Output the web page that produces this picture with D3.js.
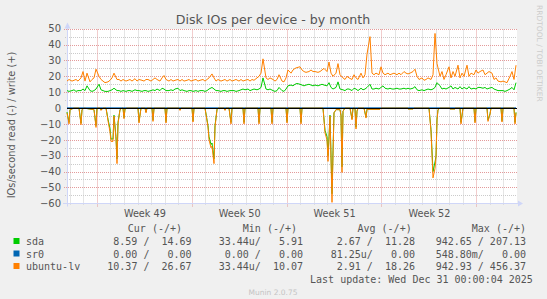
<!DOCTYPE html>
<html><head><meta charset="utf-8">
<script src="https://cdn.jsdelivr.net/npm/d3@7"></script>
<style>
html,body{margin:0;padding:0;background:#f0f0f0;}
svg{display:block;}
text{white-space:pre;}
</style>
</head><body>
<svg id="chart" width="547" height="299"></svg>
<script>
// ---------- DATA ----------
const startTime = Date.UTC(2025, 10, 28, 19, 0);
const endTime = Date.UTC(2026, 0, 1, 0, 0);
const stepHours = 4;

// write (+) values, one every 4 hours from startTime
const lvWrite = [
17,18,17,17.5,18,17,19,23,17,22,16.5,18,19,24.5,20,18,17,16,16.5,17.5,19,22,18,18,17,18,17,17.5,18,17,18.5,17,18,17.5,17,18,18,17,18,19,
18,17,19,20.5,18,17,18,17,17.5,18,17,18,17,17.5,18,17,17.5,18,17,17.5,18,17,18,19,21.5,19,17,18,17,17.5,18,17,18,17,17.5,18,17,18,17,17.5,
18,17,18,17.5,19,20,22,31,19,18,19,18,17,18,21,17,16.5,19,24,22,24,25,25.5,26,24,23,22.5,23,24,23,23,22.5,23,24,25,23,29,22,20,22,
28,21,19,18,20,19,18,21,19,18,22,19,21,34,45,22,21,22,21,26,22,21,22,21,21.5,22,21,22,21,23,22,21.5,22,23,24.5,20,18,19,17.5,18,
19,18,21,47,28,20,23,18,21,26,19,23,20,27,19,22,20,27,20,22,21,24,22,23,24,21,22,23,22,18,19,17,16.5,17,16.5,16,20,23,18,27];
const sdaWrite = [
11,10.5,11,11.5,10.5,11,11,12,11,14,11,10.5,11,12,15,11.5,11,10.5,10.5,11,11.5,12.5,11,11,10.5,11,10.5,11,11,10.5,11.5,11,11,10.5,11,11,10.5,11,11.5,11,
12,11,12.5,12,11,11,11.5,11,12,12.5,11,11.5,11,10.5,11,11,10.5,11,10.5,11,11,10.5,11,12,13,12,11,11,10.5,11,11,10.5,11,11,11,10.5,11,11.5,12,11.5,
12,11,11.5,12,11.5,12,13,19,12,11.5,12,11,10.5,11,13,11,10.5,12,14,14.5,14,15,15.5,15,14.5,14,14.5,15,14.5,14,14.5,14,14.5,15,14.5,14,16,13,12,13,
16.5,12,11.5,11,12,12,11,12.5,12,11,12.5,11.5,12,13,15,12,12,12.5,12,13,14,12.5,12,12.5,12,12,12.5,12,12,12.5,12,12.5,12,12.5,13.5,11.5,11,11.5,11,11.5,
12,11.5,12,13,16,14,12,12.5,12,13,14,12,13,12,13.5,12,13,12,13.5,12,12.5,12,13,13,12.5,13,12,12.5,13,12,11.5,11,11,11,10.5,11,12,13,11.5,16];

// read (-) values: [hours since startTime, value]
const lvRead = [[0,-3],[2.7,-10],[5.3,-1],[8.9,-0.5],[12,0],
[21.3,0],[24.3,-10.5],[26.6,-1],[30,0],
[47.8,-1],[50.8,-12.2],[53.1,0],
[58.4,0],[61.1,-1.5],[63.8,0],
[69.1,0],[72.6,-8],[76.2,-15],[78.8,-21],[81.5,-21],[83.2,-5],[86.8,-20],[89.1,-35],[91.2,-10],[93.9,-1],[97.4,0],
[98.8,0],[101,-6.7],[103.3,-0.5],[106,0],
[124.9,0],[127.5,-9.4],[130.2,0],
[138.1,0],[139.9,-3],[141.7,0],
[149.7,0],[151.8,-8.4],[154.1,0],
[173,0],[175.3,-9.4],[177.6,0],
[198.4,0],[200.1,-1.5],[201.9,0],
[221,0],[223.2,-8.8],[225.5,0],
[244.4,0],[249.2,-12],[251.5,-20],[254.2,-25],[256.8,-24],[259.8,-35],[262.1,-12],[264.8,-1],[267.4,0],
[278.1,0],[279.8,-1.5],[281.6,0],
[287.8,0],[289.9,-10],[292.2,0],
[311.4,0],[313.5,-10],[315.8,0],
[337.9,0],[340,-10],[342.4,0],
[360.9,0],[363.1,-10],[365.4,0],
[387,0],[389.1,-9.4],[391.4,0],
[412.3,0],[414.4,-10],[416.7,0],
[453.4,0],[456.9,-15.7],[460,-20],[461.7,-33.6],[464,-20],[465.8,-5],[468.8,-59.4],[471.1,-30],[473.4,-3],[476.4,-1],[483.5,-1],[485.8,-5],[487.6,-40.5],[489.7,-2],[492.4,0],
[502.1,0],[504.2,-7.4],[506.5,0],
[510.1,0],[511.9,-13.2],[513.6,-2],[515.5,0],
[526.9,0],[529,-6.3],[530.5,-0.8],[554.4,-0.8],[556.1,0],
[603.1,0],[604,-0.6],[612.8,-0.6],[613.7,0],
[641.1,0],[644.7,-15],[648.8,-44],[651.8,-38],[653.5,-31],[655.3,-8],[657.9,-1],[660.6,0],
[677.5,0],[678.3,-0.6],[687.2,-0.6],[688,0],
[696.1,0],[698.3,-10],[700.6,0],
[720.5,0],[722.6,-9.4],[724.9,0],
[743.9,0],[746.2,-8.4],[749.2,-4],[751.5,0],
[768.3,0],[770.5,-8.8],[772.8,0],
[791.3,0],[793.5,-10],[796,-3]];
const sdaRead = [[0,-2.5],[2.7,-9],[5.3,-1],[8.9,-0.5],[12,0],
[21.3,0],[24.3,-9.5],[26.6,-1],[30,0],
[47.8,-1],[50.8,-11],[53.1,0],
[58.4,0],[61.1,-1.2],[63.8,0],
[69.1,0],[72.6,-7],[76.2,-13],[78.8,-19.5],[81.5,-19.5],[83.2,-4.5],[86.8,-18],[89.1,-32],[91.2,-9],[93.9,-1],[97.4,0],
[98.8,0],[101,-6],[103.3,-0.5],[106,0],
[124.9,0],[127.5,-8.5],[130.2,0],
[138.1,0],[139.9,-2.5],[141.7,0],
[149.7,0],[151.8,-7.6],[154.1,0],
[173,0],[175.3,-8.5],[177.6,0],
[198.4,0],[200.1,-1.2],[201.9,0],
[221,0],[223.2,-8],[225.5,0],
[244.4,0],[249.2,-11],[251.5,-18],[254.2,-23],[256.8,-22],[259.8,-32],[262.1,-11],[264.8,-1],[267.4,0],
[278.1,0],[279.8,-1.2],[281.6,0],
[287.8,0],[289.9,-9],[292.2,0],
[311.4,0],[313.5,-9],[315.8,0],
[337.9,0],[340,-9],[342.4,0],
[360.9,0],[363.1,-9],[365.4,0],
[387,0],[389.1,-8.5],[391.4,0],
[412.3,0],[414.4,-9],[416.7,0],
[453.4,0],[456.9,-14],[460,-18],[461.7,-30],[464,-18],[465.8,-4.5],[468.8,-54],[471.1,-27],[473.4,-3],[476.4,-1],[483.5,-1],[485.8,-4.5],[487.6,-37],[489.7,-2],[492.4,0],
[502.1,0],[504.2,-6.7],[506.5,0],
[510.1,0],[511.9,-12],[513.6,-2],[515.5,0],
[526.9,0],[529,-5.7],[530.5,-0.7],[554.4,-0.7],[556.1,0],
[603.1,0],[604,-0.5],[612.8,-0.5],[613.7,0],
[641.1,0],[644.7,-13.5],[648.8,-40],[651.8,-34],[653.5,-30.4],[655.3,-7],[657.9,-1],[660.6,0],
[677.5,0],[678.3,-0.5],[687.2,-0.5],[688,0],
[696.1,0],[698.3,-9],[700.6,0],
[720.5,0],[722.6,-8.5],[724.9,0],
[743.9,0],[746.2,-7.6],[749.2,-3.6],[751.5,0],
[768.3,0],[770.5,-8],[772.8,0],
[791.3,0],[793.5,-9],[796,-2.7]];
const sr0Read = [[0,0],[796,0]];
const sr0Write = [[0,0],[796,0]];

const yTicks = [50,40,30,20,10,0,-10,-20,-30,-40,-50,-60];
const yMinorTicks = [45,35,25,15,5,-5,-15,-25,-35,-45,-55];
const weekLabels = ["Week 49","Week 50","Week 51","Week 52"];
const legendHeaders = ["Cur (-/+)","Min (-/+)","Avg (-/+)","Max (-/+)"];
const seriesNames = ["sda","sr0","ubuntu-lv"];
const seriesColors = ["#00cc00","#0066b3","#ff8000"];
const curValues = ["8.59 /  14.69","0.00 /   0.00","10.37 /  26.67"];
const minValues = ["33.44u/   5.91","0.00 /   0.00","33.44u/  10.07"];
const avgValues = ["2.67 /  11.28","81.25u/   0.00","2.91 /  18.26"];
const maxValues = ["942.65 / 207.13","548.80m/   0.00","942.93 / 456.37"];
const titleText = "Disk IOs per device - by month";
const yLabel = "IOs/second read (-) / write (+)";
const lastUpdate = "Last update: Wed Dec 31 00:00:04 2025";
const footer = "Munin 2.0.75";
const watermark = "RRDTOOL / TOBI OETIKER";

// ---------- DRAW ----------
const svg = d3.select("#chart");
const W = 547, H = 299;
const L = 67, R = 517, T = 28.7, B = 203.3;
const FONT = "'DejaVu Sans', sans-serif";
const MONO = "'DejaVu Sans Mono', monospace";
const textCol = "#555";
const axisCol = "#cfd6f8";

svg.append("rect").attr("width", W).attr("height", H).attr("fill", "#f0f0f0");

const x = d3.scaleUtc().domain([startTime, endTime]).range([L, R]);
const y = d3.scaleLinear().domain([-60, 50]).range([B, T]);
const px = v => Math.round(v) + 0.5;

svg.append("rect").attr("x", L).attr("y", px(y(50)) - 0.5).attr("width", R - L).attr("height", px(y(-60)) - px(y(50)) + 1).attr("fill", "#fff");

// grid
const g = svg.append("g");
const days = d3.utcDay.range(new Date(startTime), new Date(endTime));
const mondays = d3.utcMonday.range(new Date(startTime), new Date(endTime));
const mondaySet = new Set(mondays.map(d => +d));
const minorCol = "#cbcbcb", majorCol = "#e39a9a";
g.selectAll(".vmin").data(days.filter(d => !mondaySet.has(+d))).join("line")
  .attr("x1", d => px(x(d))).attr("x2", d => px(x(d)))
  .attr("y1", px(y(50))).attr("y2", px(y(-60)) + 2)
  .attr("stroke", minorCol).attr("stroke-dasharray", "1,1");
g.selectAll(".hmin").data(yMinorTicks).join("line")
  .attr("x1", L - 2).attr("x2", R).attr("y1", d => px(y(d))).attr("y2", d => px(y(d)))
  .attr("stroke", minorCol).attr("stroke-dasharray", "1,1");
g.selectAll(".vmaj").data(mondays).join("line")
  .attr("x1", d => px(x(d))).attr("x2", d => px(x(d)))
  .attr("y1", px(y(50))).attr("y2", px(y(-60)) + 3)
  .attr("stroke", majorCol).attr("stroke-dasharray", "1,1");
g.selectAll(".hmaj").data(yTicks.filter(v => v !== 0)).join("line")
  .attr("x1", L - 3).attr("x2", R).attr("y1", d => px(y(d))).attr("y2", d => px(y(d)))
  .attr("stroke", majorCol).attr("stroke-dasharray", "1,1");

// axes lines with arrows
const ax = svg.append("g");
ax.append("line").attr("x1", L - 4).attr("x2", R + 2).attr("y1", px(y(-60))).attr("y2", px(y(-60))).attr("stroke", axisCol);
ax.append("path").attr("d", `M${R + 1},${px(y(-60)) - 3}L${R + 6},${px(y(-60))}L${R + 1},${px(y(-60)) + 3}Z`).attr("fill", axisCol);
ax.append("line").attr("x1", L + 0.5).attr("x2", L + 0.5).attr("y1", px(y(-60)) + 3).attr("y2", px(y(50)) - 2).attr("stroke", axisCol);
ax.append("path").attr("d", `M${L + 0.5 - 3},${px(y(50)) - 1}L${L + 0.5},${px(y(50)) - 7}L${L + 0.5 + 3},${px(y(50)) - 1}Z`).attr("fill", axisCol);

// y axis labels
const yAxis = d3.axisLeft(y).tickValues(yTicks).tickSize(0).tickPadding(6).tickFormat(d3.format("d"));
const yg = svg.append("g").attr("transform", `translate(${L},0)`).call(yAxis);
yg.select(".domain").remove();
yg.selectAll("text").attr("font-family", FONT).attr("font-size", 10).attr("fill", textCol);

// x axis labels (week centres)
const weekCentres = mondays.slice(0, 4).map(d => new Date(+d + 3.5 * 864e5));
const xAxis = d3.axisBottom(x).tickValues(weekCentres).tickSize(0).tickPadding(7).tickFormat((d, i) => weekLabels[i]);
const xg = svg.append("g").attr("transform", `translate(0,${B})`).call(xAxis);
xg.select(".domain").remove();
xg.selectAll("text").attr("font-family", FONT).attr("font-size", 9.7).attr("fill", textCol);

// series
const writeLine = d3.line().x(d => px(x(d.t)) - 0.5).y(d => y(d.v));
const toWrite = arr => arr.map((v, i) => ({ t: startTime + i * stepHours * 3600e3, v }));
const toRead = arr => arr.map(p => ({ t: startTime + p[0] * 3600e3, v: p[1] }));
const series = [
  { read: toRead(sdaRead), write: toWrite(sdaWrite), color: seriesColors[0] },
  { read: toRead(sr0Read), write: toRead(sr0Write), color: seriesColors[1] },
  { read: toRead(lvRead), write: toWrite(lvWrite), color: seriesColors[2] }
];
const sg = svg.append("g");
series.forEach(s => {
  sg.append("path").datum(s.read).attr("d", writeLine).attr("fill", "none").attr("stroke", s.color).attr("stroke-width", 1);
  sg.append("path").datum(s.write).attr("d", writeLine).attr("fill", "none").attr("stroke", s.color).attr("stroke-width", 1);
});
// zero rule
svg.append("line").attr("x1", L).attr("x2", R).attr("y1", px(y(0))).attr("y2", px(y(0))).attr("stroke", "#000");

// title
svg.append("text").attr("x", 273).attr("y", 24).attr("text-anchor", "middle")
  .attr("font-family", FONT).attr("font-size", 12.6).attr("fill", textCol).text(titleText);
// y label
svg.append("text").attr("transform", "translate(14.5,125) rotate(-90)").attr("text-anchor", "middle")
  .attr("font-family", FONT).attr("font-size", 9.8).attr("fill", textCol).text(yLabel);
// watermark
svg.append("text").attr("transform", "translate(536.5,5) rotate(90)").attr("text-anchor", "start")
  .attr("font-family", FONT).attr("font-size", 7.5).attr("fill", "#cccccc").text(watermark);

// legend
const lg = svg.append("g").attr("font-family", MONO).attr("font-size", 10).attr("fill", textCol);
const colRight = [191.6, 303, 415, 526];
const headRight = [182, 297, 411.7, 526];
legendHeaders.forEach((h, i) => lg.append("text").attr("x", headRight[i]).attr("y", 232).attr("text-anchor", "end").text(h));
const rowY = [245, 257.5, 270];
const cols = [curValues, minValues, avgValues, maxValues];
seriesNames.forEach((n, r) => {
  lg.append("rect").attr("x", 13.5).attr("y", rowY[r] - 7).attr("width", 6).attr("height", 6).attr("fill", seriesColors[r]);
  lg.append("text").attr("x", 26).attr("y", rowY[r]).text(n);
  cols.forEach((c, ci) => lg.append("text").attr("x", colRight[ci]).attr("y", rowY[r]).attr("text-anchor", "end").text(c[r]));
});
lg.append("text").attr("x", 532.8).attr("y", 282.5).attr("text-anchor", "end").text(lastUpdate);
svg.append("text").attr("x", 273).attr("y", 295).attr("text-anchor", "middle")
  .attr("font-family", FONT).attr("font-size", 7.5).attr("fill", "#c4c4c4").text(footer);
</script>
</body></html>
